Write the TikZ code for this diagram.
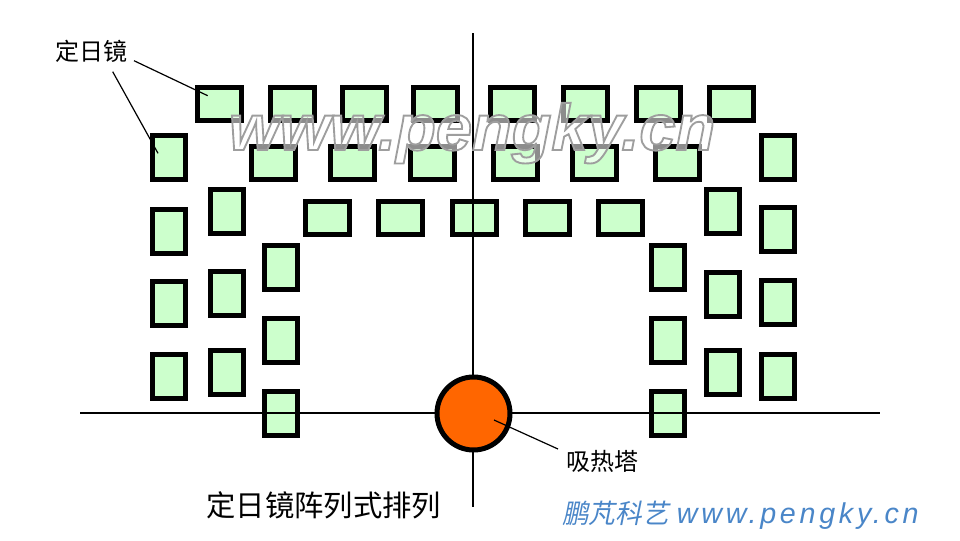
\documentclass[tikz,border=0pt]{standalone}
\usepackage{fontspec}
\newfontfamily\cjk{Noto Sans CJK SC}
\newfontfamily\cjkit{Noto Sans CJK SC}[FakeSlant=0.2]
\newfontfamily\wmfont{Liberation Sans}
\newfontfamily\urlfont{Liberation Sans}[LetterSpace=13]
\definecolor{mirrorgreen}{HTML}{CCFFCC}
\definecolor{towerorange}{HTML}{FF6600}
\definecolor{brandblue}{HTML}{4A86C8}
\tikzset{
  mirrorbase/.style={draw=black, fill=mirrorgreen, line width=3.75pt, inner sep=0pt, outer sep=0pt, rectangle},
  mirrorh/.style={mirrorbase, minimum width=33pt, minimum height=24.75pt},
  mirrorv/.style={mirrorbase, minimum width=24.75pt, minimum height=33pt},
  axisline/.style={draw=black, line width=0.8pt},
  leader/.style={draw=black, line width=0.9pt},
  lbl/.style={font=\cjk\fontsize{18}{18}\selectfont, inner sep=0pt},
}
\begin{document}
\begin{tikzpicture}[x=0.75pt,y=-0.75pt]
\useasboundingbox (0,0) rectangle (960,540);
% row 1
\foreach \x [count=\i] in {219,292,364.5,435,512,585,658,731.5}
  \node[mirrorh] (ra\i) at (\x,104) {};
% row 2
\foreach \x [count=\i] in {273,352.5,432,515.5,594,677}
  \node[mirrorh] (rb\i) at (\x,162.5) {};
% row 3
\foreach \x [count=\i] in {327.5,400.5,474,547,620.5}
  \node[mirrorh] (rc\i) at (\x,217.5) {};
% left columns
\foreach \y [count=\i] in {157.5,231,303.5,376}
  \node[mirrorv] (la\i) at (169,\y) {};
\foreach \y [count=\i] in {211,293.5,372.5}
  \node[mirrorv] (lb\i) at (227,\y) {};
\foreach \y [count=\i] in {267,340.5,413.5}
  \node[mirrorv] (lc\i) at (281,\y) {};
% right columns
\foreach \y [count=\i] in {267,340.5,413}
  \node[mirrorv] (rgc\i) at (668,\y) {};
\foreach \y [count=\i] in {211,294.5,372.5}
  \node[mirrorv] (rgb\i) at (722.5,\y) {};
\foreach \y [count=\i] in {157,229.5,302.5,376}
  \node[mirrorv] (rga\i) at (778,\y) {};
% axes
\coordinate (axl) at (80,413);
\coordinate (axr) at (880,413);
\coordinate (axt) at (473,33);
\coordinate (axb) at (473,507);
\draw[axisline] (axl) -- (axr);
\draw[axisline] (axt) -- (axb);
% tower
\node[circle, draw=black, fill=towerorange, line width=3.75pt, minimum size=54.75pt, inner sep=0pt] (tower) at (473.5,413.5) {};
% watermark
\node[anchor=base, inner sep=0pt, fill opacity=0.55, font=\wmfont\bfseries\itshape\fontsize{48.75}{50}\selectfont] (wm) at (472,150)
  {\special{pdf:literal direct 2 Tr 1.4 w 1 g 0.62 G}www.pengky.cn\special{pdf:literal direct 0 Tr 0 g 0 G}};
% labels
\node[lbl] (hlabel) at (91.5,51) {定日镜};
\node[lbl] (tlabel) at (602,461) {吸热塔};
\node[font=\cjk\fontsize{22}{22}\selectfont, inner sep=0pt] (title) at (323.7,505.5) {定日镜阵列式排列};
\node[anchor=west, inner sep=0pt, text=brandblue] (brand) at (562,515)
  {{\cjkit\fontsize{20}{20}\selectfont 鹏芃科艺}\hspace{6pt}{\urlfont\itshape\fontsize{21.5}{21.5}\selectfont www.pengky.cn}};
% leaders
\coordinate (l1a) at (134,60.7);
\coordinate (l1b) at (207.7,95.7);
\coordinate (l2a) at (112.7,71.7);
\coordinate (l2b) at (158,153.3);
\coordinate (l3a) at (494,420);
\coordinate (l3b) at (558,449);
\draw[leader] (l1a) -- (l1b);
\draw[leader] (l2a) -- (l2b);
\draw[leader] (l3a) -- (l3b);
\end{tikzpicture}
\end{document}
